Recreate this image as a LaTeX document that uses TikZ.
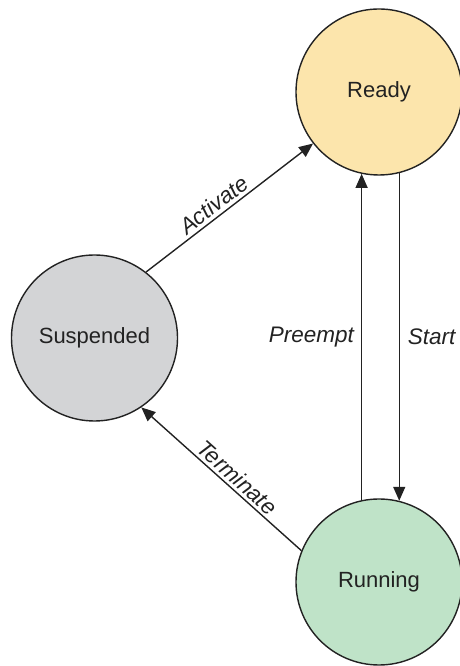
\documentclass[tikz,border=0pt]{standalone}
\usepackage{fontspec}
\setmainfont{Liberation Sans}
\usetikzlibrary{arrows.meta}
\definecolor{readyfill}{HTML}{FCE5AC}
\definecolor{suspfill}{HTML}{D3D4D6}
\definecolor{runfill}{HTML}{BFE3C8}
\definecolor{ink}{HTML}{222222}
\tikzset{
  state/.style={circle, draw=ink, line width=1.4pt, minimum size=166pt, inner sep=0pt, text=ink, font=\fontsize{22}{26}\selectfont},
  arr/.style={draw=ink, line width=1.4pt, -{Triangle[length=14pt,width=12pt]}},
  lbl/.style={text=ink, font=\fontsize{22.5}{27}\selectfont\itshape}
}
\begin{document}
\begin{tikzpicture}[x=1pt,y=1pt]
\useasboundingbox (0,0) rectangle (459,666);
\node[state, fill=readyfill] (Ready) at (379,574) {Ready};
\node[state, fill=suspfill] (Suspended) at (94.5,328) {Suspended};
\node[state, fill=runfill] (Running) at (379,84) {Running};
\draw[arr] (Suspended.52) -- node[lbl, sloped, above, pos=0.45, inner sep=3pt] {Activate} (Ready.218);
\draw[arr] (Running.158) -- node[lbl, sloped, above, pos=0.45, inner sep=3pt] {Terminate} (Suspended.304);
\draw[arr] (Running.102) -- node[lbl, left, inner sep=7pt] {Preempt} (Ready.258);
\draw[arr] (Ready.284) -- node[lbl, right, inner sep=8pt] {Start} (Running.76);
\end{tikzpicture}
\end{document}
